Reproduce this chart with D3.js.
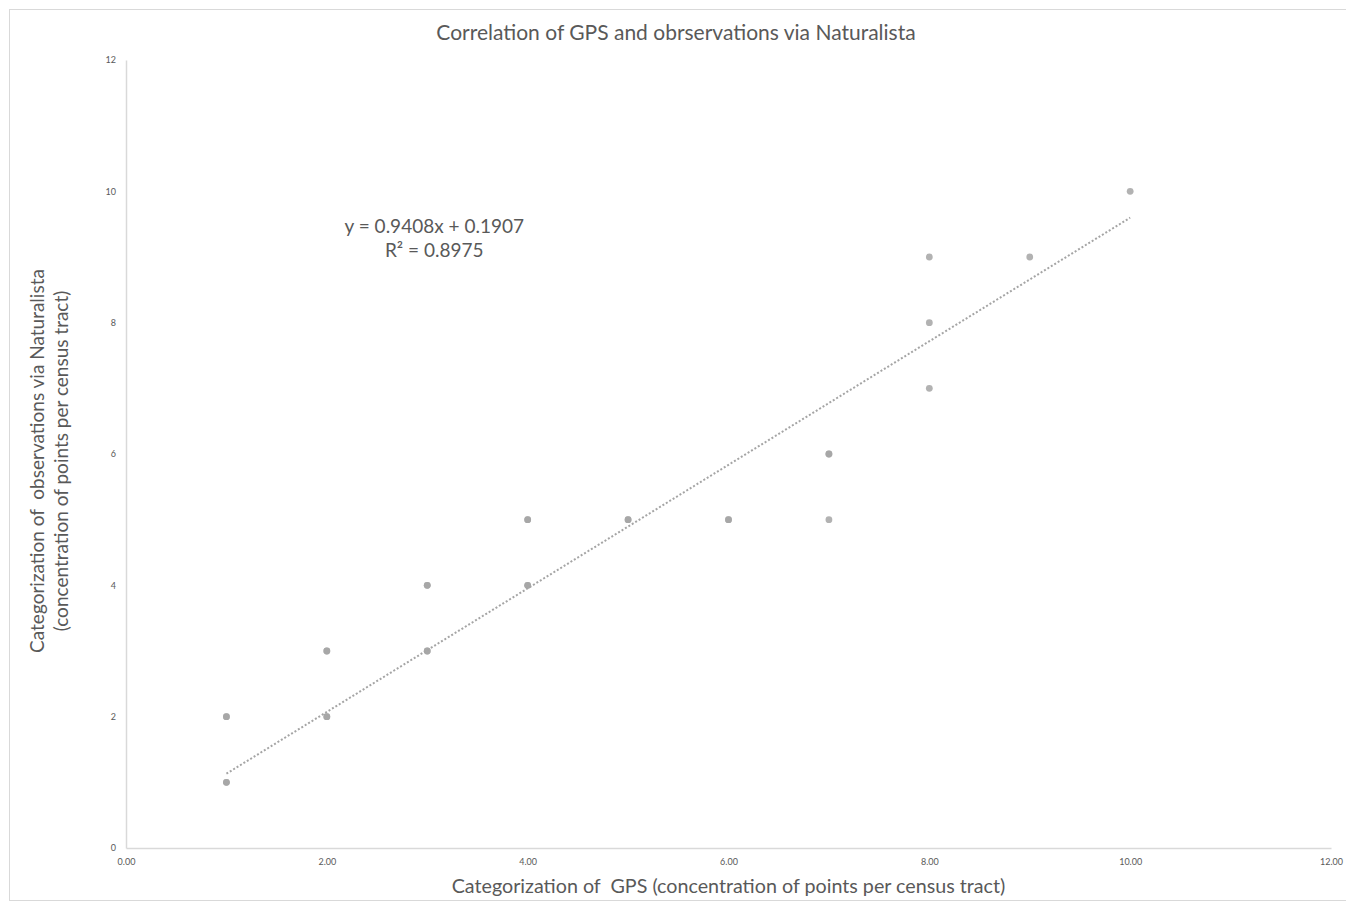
<!DOCTYPE html>
<html>
<head>
<meta charset="utf-8">
<script src="https://cdn.jsdelivr.net/npm/d3@7"></script>
<style>
  body { margin: 0; background: #fff; }
  text { font-family: Lato, "Open Sans", sans-serif; fill: #595959; }
</style>
</head>
<body>
<div id="chart"></div>
<script>
// GPS category (x) vs Naturalista category (y); repeated pairs are overlapping tracts
let gpsValues = [1, 1, 1, 1, 2, 2, 2, 2, 3, 3, 3, 3, 4, 4, 4, 4, 5, 5, 6, 6, 7, 7, 7, 8, 8, 8, 9, 10];
let natValues = [2, 2, 1, 1, 3, 3, 2, 2, 4, 4, 3, 3, 5, 5, 4, 4, 5, 5, 5, 5, 6, 6, 5, 7, 8, 9, 9, 10];
let xTicks = [0, 2, 4, 6, 8, 10, 12];
let yTicks = [0, 2, 4, 6, 8, 10, 12];
let trendSlope = 0.9408;
let trendIntercept = 0.1907;
let trendRange = [1, 10];
let rSquared = 0.8975;

let points = gpsValues.map((x, i) => ({x: x, y: natValues[i]}));

let totalWidth = 1346, totalHeight = 905;
let margin = {top: 60, right: 15, bottom: 57, left: 126};
let width = 1331 - margin.left;
let height = 848 - margin.top;

let svg = d3.select("#chart")
    .append("svg")
    .attr("width", totalWidth)
    .attr("height", totalHeight);

// chart border
svg.append("rect")
    .attr("x", 9.5)
    .attr("y", 9.5)
    .attr("width", totalWidth + 10)
    .attr("height", totalHeight - 14)
    .attr("fill", "none")
    .attr("stroke", "#d9d9d9");

let plot = svg.append("g")
    .attr("transform", "translate(" + margin.left + "," + margin.top + ")");

let xScale = d3.scaleLinear().domain([0, 12]).range([0, width]);
let yScale = d3.scaleLinear().domain([0, 12]).range([height, 0]);

let xAxis = d3.axisBottom(xScale).tickValues(xTicks).tickSize(0).tickPadding(11).tickFormat(d3.format(".2f"));
let yAxis = d3.axisLeft(yScale).tickValues(yTicks).tickSize(0).tickPadding(10).tickFormat(d3.format("d"));

let gx = plot.append("g")
    .attr("transform", "translate(0," + height + ")")
    .call(xAxis);
let gy = plot.append("g").call(yAxis);

[gx, gy].forEach(g => {
    g.select(".domain").attr("stroke", "#d9d9d9").attr("stroke-width", 1.5);
    g.selectAll("text")
        .attr("fill", "#595959")
        .style("font-size", "9px")
        .style("font-family", "Lato, 'Open Sans', sans-serif");
});

// trend line
let trend = trendRange.map(x => ({x: x, y: trendSlope * x + trendIntercept}));
plot.append("path")
    .datum(trend)
    .attr("d", d3.line().x(d => xScale(d.x)).y(d => yScale(d.y)))
    .attr("fill", "none")
    .attr("stroke", "#a5a5a5")
    .attr("stroke-width", 2)
    .attr("stroke-dasharray", "2,2");

plot.selectAll("circle")
    .data(points)
    .enter()
    .append("circle")
    .attr("r", 3.4)
    .attr("cx", d => xScale(d.x))
    .attr("cy", d => yScale(d.y))
    .attr("fill", "#a5a5a5")
    .attr("fill-opacity", 0.85);

// equation label
let eqX = xScale(3.07);
let eq = plot.append("text")
    .attr("x", eqX)
    .attr("y", yScale(9.37))
    .attr("text-anchor", "middle")
    .style("font-size", "19px");
eq.append("tspan")
    .attr("x", eqX)
    .text("y = " + trendSlope + "x + " + trendIntercept);
eq.append("tspan")
    .attr("x", eqX)
    .attr("dy", 24)
    .text("R² = " + rSquared);

// title
svg.append("text")
    .attr("x", 676)
    .attr("y", 40)
    .attr("text-anchor", "middle")
    .style("font-size", "21px")
    .text("Correlation of GPS and obrservations via Naturalista");

// axis titles
svg.append("text")
    .attr("x", margin.left + width / 2)
    .attr("y", 893)
    .attr("text-anchor", "middle")
    .style("font-size", "19.7px")
    .style("white-space", "pre")
    .text("Categorization of  GPS (concentration of points per census tract)");

let yl = svg.append("text")
    .attr("transform", "translate(44," + (margin.top + height / 2 + 7) + ") rotate(-90)")
    .attr("text-anchor", "middle")
    .style("font-size", "19px")
    .style("white-space", "pre");
yl.append("tspan").attr("x", 0).text("Categorization of  observations via Naturalista");
yl.append("tspan").attr("x", 0).attr("dy", 24).text("(concentration of points per census tract)");
</script>
</body>
</html>
